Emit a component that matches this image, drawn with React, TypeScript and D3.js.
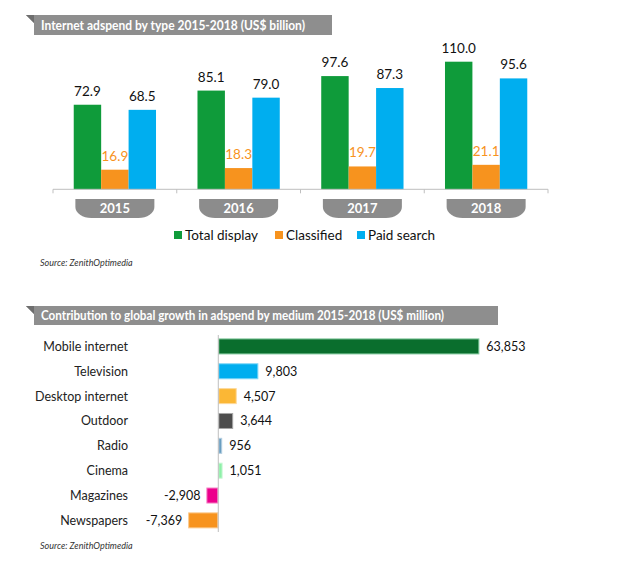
import React from "react";
import * as d3 from "d3";

const years = ["2015", "2016", "2017", "2018"];
const seriesNames = ["Total display", "Classified", "Paid search"];
const totalDisplay = [72.9, 85.1, 97.6, 110.0];
const classified = [16.9, 18.3, 19.7, 21.1];
const paidSearch = [68.5, 79.0, 87.3, 95.6];
const seriesColors = ["#0F9B3A", "#F7931E", "#00AEEF"];
const labelColors = ["#111111", "#F7931E", "#111111"];

const media = ["Mobile internet", "Television", "Desktop internet", "Outdoor", "Radio", "Cinema", "Magazines", "Newspapers"];
const growth = [63853, 9803, 4507, 3644, 956, 1051, -2908, -7369];
const mediaColors = ["#0A6E2D", "#00AEEF", "#FBB735", "#4D4D4D", "#6A9EC0", "#8EF0A8", "#EC008C", "#F7931E"];
const mediaStroke = ["#7FC79A", "#7FD6F7", "#FDD99A", "#A6A6A6", "#B4CEE0", "#C6F7D3", "#F57FC5", "#FBC98E"];

const title1 = "Internet adspend by type 2015-2018 (US$ billion)";
const title2 = "Contribution to global growth in adspend by medium 2015-2018 (US$ million)";
const source = "Source: ZenithOptimedia";

const FONT = "Lato, 'Open Sans', sans-serif";
const fmt = d3.formatLocale({ decimal: ".", thousands: ",", grouping: [3], currency: ["$", ""], minus: "-" }).format(",");

function TitleBar({ x0, x1, y, h, text, textW }: { x0: number; x1: number; y: number; h: number; text: string; textW: number }) {
  const pts = [
    [x0, y], [x1, y], [x1, y + h], [x0 + 8, y + h], [x0 + 8, y + 8],
  ];
  return (
    <g>
      <polygon points={pts.map((p) => p.join(",")).join(" ")} fill="#8E8E8E" />
      <polygon points={`${x0},${y} ${x0 + 8},${y} ${x0 + 8},${y + 8}`} fill="#6E6E6E" />
      <text
        x={x0 + 15}
        y={y + h / 2 + 4.5}
        fill="#fff"
        fontWeight="bold"
        fontSize={13}
        fontFamily={FONT}
        textLength={textW}
        lengthAdjust="spacingAndGlyphs"
      >
        {text}
      </text>
    </g>
  );
}

export default function App() {
  const values = [totalDisplay, classified, paidSearch];
  const base = 189.3;
  const x0 = d3.scaleBand<string>().domain(years).range([53, 548]).paddingInner(0).paddingOuter(0);
  const x1 = d3.scaleBand<string>().domain(seriesNames).range([0, x0.bandwidth()]).paddingInner(0).paddingOuter(0.756);
  const y = d3.scaleLinear().domain([0, 120]).range([base, base - 139.2]);

  const xs = d3.scaleLinear().domain([-10000, 70000]).range([177.4, 504.5]);
  const ys = d3.scaleBand<string>().domain(media).range([334, 532.8]).paddingInner(0.356).paddingOuter(0.178);
  const zeroX = xs(0);

  const pillW = 79;
  const pillH = 19;
  const pillY = 199;
  const pillPath = (cx: number) => {
    const l = cx - pillW / 2;
    const r = cx + pillW / 2;
    const rx = 16;
    const ry = 11;
    return `M${l},${pillY} H${r} V${pillY + pillH - ry} A${rx},${ry} 0 0 1 ${r - rx},${pillY + pillH} H${l + rx} A${rx},${ry} 0 0 1 ${l},${pillY + pillH - ry} Z`;
  };

  const legendItems = [
    { x: 174, name: seriesNames[0], color: seriesColors[0] },
    { x: 275, name: seriesNames[1], color: seriesColors[1] },
    { x: 357, name: seriesNames[2], color: seriesColors[2] },
  ];

  return (
    <svg width={619} height={564} style={{ position: "absolute", left: 0, top: 0, background: "#fff" }} fontFamily={FONT}>
      <TitleBar x0={26} x1={332} y={15} h={20} text={title1} textW={264} />

      {/* bars */}
      {years.map((yr, i) => (
        <g key={yr} transform={`translate(${x0(yr)},0)`}>
          {seriesNames.map((s, j) => {
            const v = values[j][i];
            const bx = x1(s)!;
            return (
              <g key={s}>
                <rect x={bx} y={y(v)} width={x1.bandwidth()} height={base - y(v)} fill={seriesColors[j]} />
                <text
                  x={bx + x1.bandwidth() / 2}
                  y={y(v) - 9}
                  textAnchor="middle"
                  fontSize={13.5}
                  fill={labelColors[j]}
                >
                  {v.toFixed(1)}
                </text>
              </g>
            );
          })}
        </g>
      ))}

      {/* axis */}
      <line x1={53} x2={548} y1={base} y2={base} stroke="#BFBFBF" strokeWidth={1} />
      {[...years.map((yr) => x0(yr)!), 548].map((tx, i) => (
        <line key={i} x1={tx} x2={tx} y1={base} y2={base + 4} stroke="#BFBFBF" strokeWidth={1} />
      ))}
      {years.map((yr) => {
        const cx = x0(yr)! + x0.bandwidth() / 2;
        return (
          <g key={yr}>
            <path d={pillPath(cx)} fill="#8C8C8C" />
            <text x={cx} y={213} textAnchor="middle" fill="#fff" fontWeight="bold" fontSize={13}>
              {yr}
            </text>
          </g>
        );
      })}

      {/* legend */}
      {legendItems.map((it) => (
        <g key={it.name}>
          <rect x={it.x} y={231} width={8} height={8} fill={it.color} />
          <text x={it.x + 11} y={239.5} fontSize={13.5} fill="#111">
            {it.name}
          </text>
        </g>
      ))}

      <text x={40} y={266} fontSize={9} fontStyle="italic" fill="#333">
        {source}
      </text>

      <TitleBar x0={26} x1={498} y={306} h={19} text={title2} textW={403} />

      {/* horizontal bars */}
      {media.map((m, i) => {
        const v = growth[i];
        const by = ys(m)!;
        const bx = Math.min(xs(v), zeroX);
        const bw = Math.abs(xs(v) - zeroX);
        const cy = by + ys.bandwidth() / 2;
        return (
          <g key={m}>
            <rect x={bx + 0.5} y={by + 0.5} width={Math.max(bw - 1, 0.5)} height={ys.bandwidth() - 1} fill={mediaColors[i]} stroke={mediaStroke[i]} strokeWidth={1} />
            <text x={128} y={cy + 4.5} textAnchor="end" fontSize={12.5} fill="#222">
              {m}
            </text>
            <text
              x={v >= 0 ? xs(v) + 7 : xs(v) - 6}
              y={cy + 4.5}
              textAnchor={v >= 0 ? "start" : "end"}
              fontSize={12.5}
              fill="#111"
            >
              {fmt(v)}
            </text>
          </g>
        );
      })}
      <line x1={zeroX} x2={zeroX} y1={335} y2={532} stroke="#BFBFBF" strokeWidth={1} />

      <text x={40} y={549} fontSize={9} fontStyle="italic" fill="#333">
        {source}
      </text>
    </svg>
  );
}
